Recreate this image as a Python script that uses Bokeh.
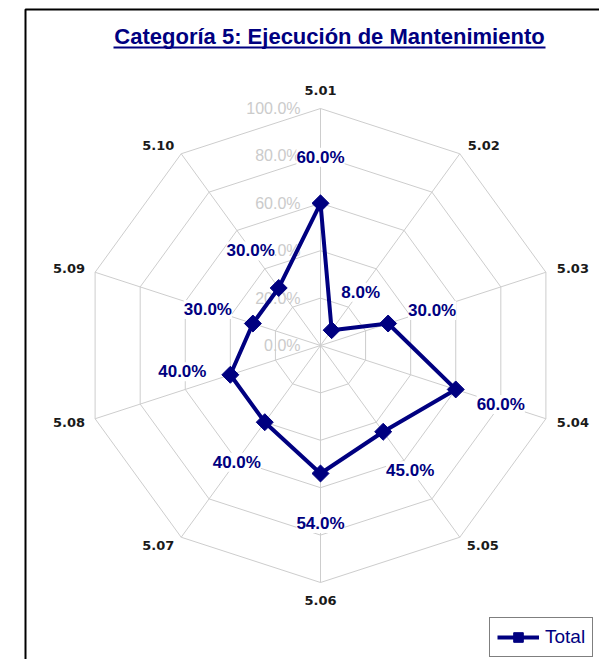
import numpy as np
from bokeh.plotting import figure
from bokeh.models import Range1d, ColumnDataSource, LabelSet, Legend, LegendItem
from bokeh.core.properties import value
from bokeh.embed import file_html
from bokeh.resources import INLINE

# ---- data ----
title_text = "Categoría 5: Ejecución de Mantenimiento"
categories = ["5.01", "5.02", "5.03", "5.04", "5.05", "5.06", "5.07", "5.08", "5.09", "5.10"]
values = [0.60, 0.08, 0.30, 0.60, 0.45, 0.54, 0.40, 0.40, 0.30, 0.30]
levels = [0.0, 0.2, 0.4, 0.6, 0.8, 1.0]
level_labels = ["0.0%", "20.0%", "40.0%", "60.0%", "80.0%", "100.0%"]
series_name = "Total"

# ---- layout / style (pixel coordinates) ----
CX, CY, R = 320.0, 345.0, 237.0
NAVY = "#000080"
GRID = "#cdcdcd"
label_dx = [0, 29, 44, 45, 27, 0, -28, -48, -45, -28]
label_dy = [-46, -38, -13, 15, 39, 50, 40, -3, -14, -37]
cat_dx = [0, 24, 27, 27, 23, 0, -23, -26, -26, -23]
cat_dy = [-18, -8, -4, 4, 8, 18, 8, 4, -4, -8]

n = len(categories)
theta = np.arange(n) * 2 * np.pi / n
sx, sy = np.sin(theta), np.cos(theta)

def pt(r):
    return CX + r * R * sx, CY - r * R * sy

W, H = 599, 659
p = figure(width=W, height=H, output_backend="svg", toolbar_location=None,
           x_range=Range1d(0, W), y_range=Range1d(H, 0), min_border=0)
p.axis.visible = False
p.grid.visible = False
p.outline_line_color = None
p.background_fill_color = "white"
p.border_fill_color = "white"

# outer frame (left and top edges visible)
p.line([25, 25, W], [H, 9, 9], line_color="black", line_width=2)

# grid rings
for lv in levels[1:]:
    x, y = pt(lv)
    p.line(list(x) + [x[0]], list(y) + [y[0]], line_color=GRID, line_width=1)
# spokes
ox, oy = pt(1.0)
p.multi_line([[CX, ox[i]] for i in range(n)], [[CY, oy[i]] for i in range(n)],
             line_color=GRID, line_width=1)

# level tick labels
p.text(x=[CX - 20] * len(levels), y=[CY - lv * R for lv in levels], text=level_labels,
       text_align="right", text_baseline="middle", text_color="#cbcbcb",
       text_font=value("Liberation Sans"), text_font_size="16px")

# series
vx, vy = pt(np.array(values))
lr = p.line(list(vx) + [vx[0]], list(vy) + [vy[0]], line_color=NAVY, line_width=4,
            line_join="round")
mr = p.scatter(vx, vy, marker="square", angle=np.pi / 4, size=12,
               fill_color=NAVY, line_color=NAVY)

# data labels
lsrc = ColumnDataSource(dict(
    x=vx + np.array(label_dx), y=vy + np.array(label_dy),
    t=["%.1f%%" % (v * 100) for v in values]))
p.add_layout(LabelSet(x="x", y="y", text="t", source=lsrc, text_align="center",
                      text_baseline="middle", text_color=NAVY, text_font_style="bold",
                      text_font=value("Liberation Sans"), text_font_size="17px",
                      background_fill_color="white"))

# category labels
cx_, cy_ = pt(1.0)
p.text(x=cx_ + np.array(cat_dx), y=cy_ + np.array(cat_dy), text=categories,
       text_align="center", text_baseline="middle", text_color="#1a1a1a",
       text_font=value("DejaVu Sans"), text_font_style="bold", text_font_size="13px")

# title with underline
p.text(x=[329], y=[36], text=[title_text], text_align="center", text_baseline="middle",
       text_color=NAVY, text_font=value("Liberation Sans"), text_font_style="bold",
       text_font_size="22px")
p.line([113, 545], [47, 47], line_color=NAVY, line_width=2)

legend = Legend(items=[LegendItem(label=series_name, renderers=[lr, mr])],
                location=(489, 2), orientation="vertical",
                border_line_color="black", border_line_width=1,
                background_fill_color="white", background_fill_alpha=1,
                label_text_color=NAVY, label_text_font="Liberation Sans",
                label_text_font_size="19px", glyph_width=42, glyph_height=24,
                label_height=24, padding=7, spacing=0, margin=0, label_standoff=6)
p.add_layout(legend)

open("out.html", "w").write(file_html(p, INLINE))
